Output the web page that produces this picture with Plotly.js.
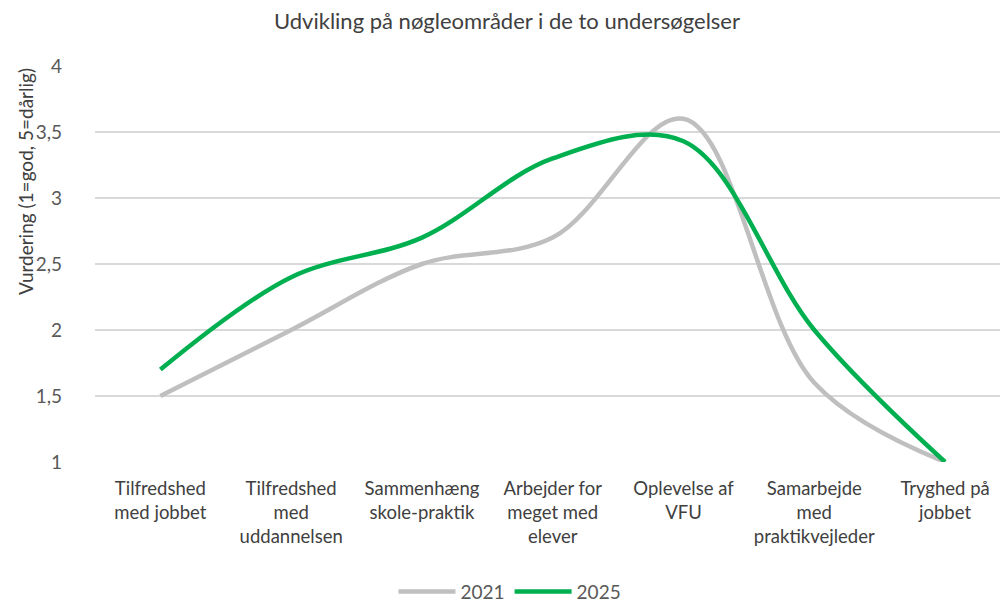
<!DOCTYPE html>
<html>
<head>
<meta charset="utf-8">
<script src="https://cdn.plot.ly/plotly-3.0.1.min.js"></script>
<style>html,body{margin:0;padding:0;background:#fff;}#chart{width:1000px;height:602px;}</style>
</head>
<body>
<div id="chart"></div>
<script>
const categories = [
  "Tilfredshed<br>med jobbet",
  "Tilfredshed<br>med<br>uddannelsen",
  "Sammenhæng<br>skole-praktik",
  "Arbejder for<br>meget med<br>elever",
  "Oplevelse af<br>VFU",
  "Samarbejde<br>med<br>praktikvejleder",
  "Tryghed på<br>jobbet"
];
const values2021 = [1.5, 2.0, 2.5, 2.7, 3.6, 1.6, 1.0];
const values2025 = [1.7, 2.4, 2.7, 3.3, 3.43, 2.0, 1.0];
const seriesNames = ["2021", "2025"];
const yTitle = "Vurdering (1=god, 5=dårlig)";

const FONT = "Lato, 'Open Sans', sans-serif";

const traces = [
  {x: categories, y: values2021, name: seriesNames[0], type: "scatter", mode: "lines",
   line: {color: "#BFBFBF", width: 4.5, shape: "spline", smoothing: 1}},
  {x: categories, y: values2025, name: seriesNames[1], type: "scatter", mode: "lines",
   line: {color: "#00B050", width: 4.5, shape: "spline", smoothing: 1}}
];

const layout = {
  width: 1000, height: 602,
  separators: ", ",
  paper_bgcolor: "#fff", plot_bgcolor: "#fff",
  margin: {l: 95, r: 0, t: 66, b: 140},
  font: {family: FONT, color: "#595959", size: 18},
  title: {text: "Udvikling på nøgleområder i de to undersøgelser", x: 0.507, xanchor: "center", y: 0.965, yanchor: "middle",
          font: {family: FONT, size: 22, color: "#404040"}},
  xaxis: {type: "category", range: [-0.5, 6.42], showgrid: false, zeroline: false, showline: false,
          ticks: "", ticklabelstandoff: 13, tickfont: {family: FONT, size: 18.5, color: "#404040"}, tickangle: 0, automargin: false},
  yaxis: {range: [1, 4], dtick: 0.5, tick0: 1, showgrid: true, gridcolor: "#D9D9D9", gridwidth: 1.5,
          zeroline: false, showline: false, ticks: "", ticklabelstandoff: 32,
          tickfont: {family: FONT, size: 19, color: "#595959"},
          automargin: false},
  annotations: [
    {text: yTitle, textangle: -90, xref: "paper", yref: "paper",
     x: (25 - 95) / 905, xanchor: "center", y: (462 - 182) / 396, yanchor: "middle", showarrow: false,
     font: {family: FONT, size: 19, color: "#404040"}}
  ],
  showlegend: true,
  legend: {orientation: "h", xref: "container", yref: "container", x: 0.51, xanchor: "center", y: 0.017, yanchor: "middle",
           itemwidth: 57, font: {family: FONT, size: 19, color: "#595959"}, traceorder: "normal"}
};

Plotly.newPlot("chart", traces, layout, {displayModeBar: false, staticPlot: true});
</script>
</body>
</html>
